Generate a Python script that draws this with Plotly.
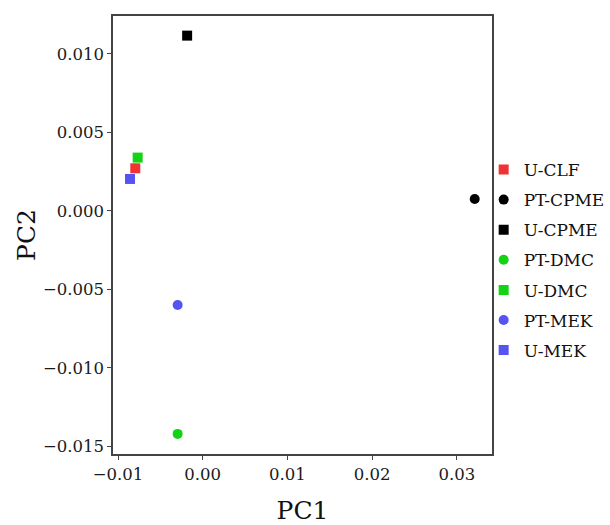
import plotly.graph_objects as go

names = ["U-CLF", "PT-CPME", "U-CPME", "PT-DMC", "U-DMC", "PT-MEK", "U-MEK"]
pc1 = [-0.00796, 0.0321, -0.00184, -0.00296, -0.00768, -0.00296, -0.00858]
pc2 = [0.00272, 0.00076, 0.01117, -0.0142, 0.0034, -0.00599, 0.00204]
symbols = ["square", "circle", "square", "circle", "square", "circle", "square"]
colors = ["#f03232", "#000000", "#000000", "#14d214", "#14d214", "#5454f0", "#5454f0"]

x_ticks = [-0.01, 0.0, 0.01, 0.02, 0.03]
x_ticklabels = ["\u22120.01", "0.00", "0.01", "0.02", "0.03"]
y_ticks = [-0.015, -0.010, -0.005, 0.0, 0.005, 0.010]
y_ticklabels = ["\u22120.015", "\u22120.010", "\u22120.005", "0.000", "0.005", "0.010"]

font = "DejaVu Serif"
fig = go.Figure()
for n, x, y, s, c in zip(names, pc1, pc2, symbols, colors):
    fig.add_trace(go.Scatter(x=[x], y=[y], mode="markers", name=n, legendgroup=n,
                             marker=dict(symbol=s, color=c, size=10, line=dict(width=0))))

axis_common = dict(showgrid=False, zeroline=False, showline=True, mirror=True,
                   linecolor="#444444", linewidth=1.5, ticks="outside", ticklen=4,
                   tickwidth=1, tickcolor="#444444",
                   tickfont=dict(family=font, size=16.5, color="#1a1a1a"))
fig.update_xaxes(range=[-0.01059, 0.03414], tickvals=x_ticks, ticktext=x_ticklabels,
                 title=dict(text="PC1", font=dict(family=font, size=25, color="#111111"), standoff=20),
                 **axis_common)
fig.update_yaxes(range=[-0.01548, 0.01242], tickvals=y_ticks, ticktext=y_ticklabels,
                 title=dict(text="PC2", font=dict(family=font, size=25, color="#111111"), standoff=0),
                 **axis_common)
fig.update_layout(width=610, height=525, margin=dict(l=113, r=118, t=16, b=71, autoexpand=False),
                  plot_bgcolor="white", paper_bgcolor="white",
                  legend=dict(x=0.978, y=0.443, xanchor="left", yanchor="middle",
                              font=dict(family=font, size=17, color="#111111"),
                              itemsizing="trace", tracegroupgap=5,
                              bgcolor="rgba(0,0,0,0)"),
                  font=dict(family=font))
fig.write_html("out.html")
